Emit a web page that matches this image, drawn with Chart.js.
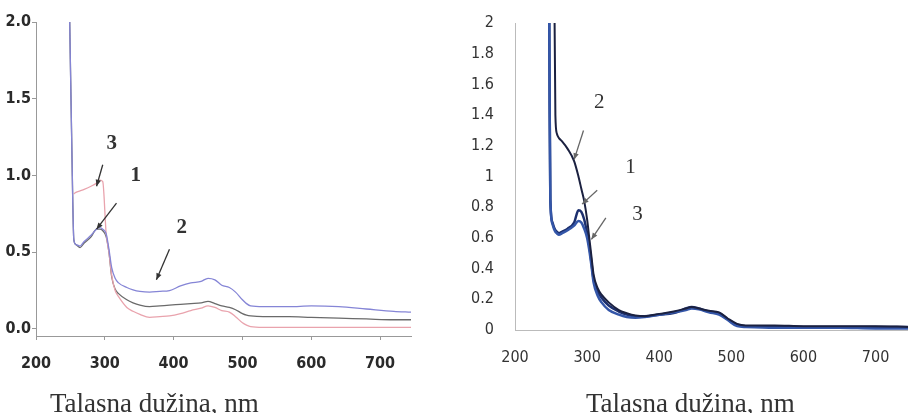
<!DOCTYPE html>
<html>
<head>
<meta charset="utf-8">
<script src="https://cdn.jsdelivr.net/npm/chart.js@4"></script>
<style>
  html, body { margin: 0; padding: 0; background: #fff; width: 908px; height: 413px; overflow: hidden; }
  canvas { position: absolute; top: 0; }
  #left { left: 0; }
  #right { left: 454px; }
  .xtitle { position: absolute; font-family: 'Liberation Serif', 'DejaVu Serif', serif; font-size: 27px; color: #333; white-space: nowrap; line-height: 1; }
</style>
</head>
<body>
<canvas id="left" width="440" height="413"></canvas>
<canvas id="right" width="454" height="413"></canvas>
<div class="xtitle" style="left:50px; top:390px;">Talasna dužina, nm</div>
<div class="xtitle" style="left:586px; top:390px;">Talasna dužina, nm</div>
<script>
// left panel: wavelength (nm) and absorbance of the three samples
var leftWl = [249, 252, 255, 258, 264, 270, 280, 288, 293, 297, 302, 306, 310, 315, 320, 332, 341, 351, 365, 380,
  394, 410, 425, 440, 450, 460, 470, 481, 490, 500, 506, 512, 530, 568, 600, 640, 680, 720, 745];
var leftSeries1 = [2.0, 1.2, 0.58, 0.55, 0.53, 0.56, 0.6, 0.65, 0.65, 0.64, 0.6, 0.5, 0.34, 0.26, 0.23, 0.19, 0.17, 0.155, 0.145, 0.15,
  0.155, 0.16, 0.165, 0.17, 0.18, 0.165, 0.15, 0.14, 0.125, 0.1, 0.09, 0.085, 0.08, 0.08, 0.075, 0.07, 0.065, 0.06, 0.06];
var leftSeries2 = [2.0, 1.2, 0.58, 0.55, 0.54, 0.57, 0.61, 0.65, 0.66, 0.65, 0.62, 0.52, 0.4, 0.33, 0.3, 0.27, 0.255, 0.245, 0.24, 0.245,
  0.25, 0.28, 0.3, 0.31, 0.33, 0.32, 0.285, 0.27, 0.24, 0.19, 0.165, 0.15, 0.145, 0.145, 0.15, 0.145, 0.13, 0.115, 0.11];
var leftSeries3 = [null, null, 0.88, 0.89, 0.9, 0.91, 0.93, 0.95, 0.97, 0.96, 0.62, 0.5, 0.35, 0.25, 0.21, 0.14, 0.115, 0.095, 0.075, 0.08,
  0.085, 0.1, 0.12, 0.135, 0.15, 0.14, 0.12, 0.11, 0.08, 0.04, 0.025, 0.015, 0.01, 0.01, 0.01, 0.01, 0.01, 0.01, 0.01];

// right panel
var rightWl = [247, 248, 249, 252, 254, 256, 258, 261, 265, 273, 282, 288, 292, 296, 300, 303, 306, 309, 315, 320,
  330, 344, 355, 367, 380, 400, 420, 437, 445, 455, 469, 483, 495, 508, 520, 560, 600, 650, 700, 745];
var rightSeries1 = [2.6, 1.5, 0.85, 0.7, 0.67, 0.65, 0.64, 0.63, 0.64, 0.66, 0.7, 0.78, 0.77, 0.72, 0.63, 0.55, 0.44, 0.33, 0.25, 0.21,
  0.16, 0.12, 0.1, 0.09, 0.09, 0.1, 0.11, 0.14, 0.15, 0.14, 0.12, 0.11, 0.07, 0.035, 0.025, 0.025, 0.02, 0.02, 0.02, 0.02];
var rightSeries2 = [null, null, null, null, 2.6, 1.4, 1.28, 1.25, 1.23, 1.18, 1.1, 1.0, 0.92, 0.84, 0.72, 0.6, 0.48, 0.36, 0.27, 0.23,
  0.18, 0.13, 0.11, 0.095, 0.09, 0.105, 0.12, 0.14, 0.15, 0.14, 0.125, 0.115, 0.075, 0.04, 0.03, 0.03, 0.025, 0.025, 0.025, 0.02];
var rightSeries3 = [2.6, 1.5, 0.85, 0.69, 0.66, 0.64, 0.63, 0.62, 0.63, 0.65, 0.68, 0.71, 0.7, 0.66, 0.6, 0.52, 0.42, 0.31, 0.22, 0.18,
  0.13, 0.1, 0.085, 0.08, 0.085, 0.1, 0.115, 0.13, 0.14, 0.135, 0.115, 0.1, 0.065, 0.025, 0.02, 0.015, 0.015, 0.015, 0.01, 0.01];

// tick values
var xTicks = [200, 300, 400, 500, 600, 700];
var leftYTicks = [0, 0.5, 1.0, 1.5, 2.0];
var rightYTicks = [0, 0.2, 0.4, 0.6, 0.8, 1, 1.2, 1.4, 1.6, 1.8, 2];

// curve numbers and arrows (data units)
var leftLabels = [['3', 310, 1.21], ['1', 345, 1.0], ['2', 412, 0.66]];
var leftArrows = [[297, 1.07, 288, 0.93], [317, 0.82, 288, 0.65], [394, 0.52, 375, 0.32]];
var rightLabels = [['2', 317, 1.48], ['1', 360, 1.06], ['3', 370, 0.75]];
var rightArrows = [[295, 1.30, 282, 1.11], [314, 0.91, 293, 0.82], [326, 0.73, 306, 0.59]];

var tickFont = "'Liberation Sans Narrow', 'DejaVu Sans Condensed', 'Arial Narrow', sans-serif";

function pts(xs, ys) {
  return xs.map(function (x, i) { return { x: x, y: ys[i] }; });
}

function marks(labels, arrows, font, color, arrowColor) {
  return {
    id: 'marks',
    afterDatasetsDraw: function (chart) {
      var ctx = chart.ctx, sx = chart.scales.x, sy = chart.scales.y;
      ctx.save();
      ctx.font = font;
      ctx.fillStyle = color;
      ctx.textAlign = 'center';
      ctx.textBaseline = 'middle';
      labels.forEach(function (l) {
        ctx.fillText(l[0], sx.getPixelForValue(l[1]), sy.getPixelForValue(l[2]));
      });
      ctx.strokeStyle = arrowColor;
      ctx.fillStyle = arrowColor;
      ctx.lineWidth = 1.3;
      arrows.forEach(function (a) {
        var x1 = sx.getPixelForValue(a[0]), y1 = sy.getPixelForValue(a[1]);
        var x2 = sx.getPixelForValue(a[2]), y2 = sy.getPixelForValue(a[3]);
        var ang = Math.atan2(y2 - y1, x2 - x1);
        ctx.beginPath();
        ctx.moveTo(x1, y1);
        ctx.lineTo(x2, y2);
        ctx.stroke();
        ctx.beginPath();
        ctx.moveTo(x2, y2);
        ctx.lineTo(x2 - 7 * Math.cos(ang - 0.4), y2 - 7 * Math.sin(ang - 0.4));
        ctx.lineTo(x2 - 7 * Math.cos(ang + 0.4), y2 - 7 * Math.sin(ang + 0.4));
        ctx.closePath();
        ctx.fill();
      });
      ctx.restore();
    }
  };
}

function line(label, xs, ys, color, width) {
  return {
    label: label, data: pts(xs, ys), borderColor: color, borderWidth: width,
    pointRadius: 0, fill: false, spanGaps: true, cubicInterpolationMode: 'monotone'
  };
}

// left chart
new Chart(document.getElementById('left'), {
  type: 'line',
  data: {
    datasets: [
      line('2', leftWl, leftSeries2, '#8585d6', 1.3),
      line('3', leftWl, leftSeries3, '#e9a3ad', 1.3),
      line('1', leftWl, leftSeries1, '#6a6a6a', 1.3)
    ]
  },
  options: {
    responsive: false,
    animation: false,
    layout: { padding: { top: 22, right: 29, left: 0, bottom: 0 } },
    plugins: { legend: { display: false }, tooltip: { enabled: false } },
    scales: {
      x: {
        type: 'linear', min: 200, max: 745,
        afterFit: function (s) { s.height = 77; },
        afterBuildTicks: function (s) { s.ticks = xTicks.map(function (v) { return { value: v }; }); },
        border: { display: true, color: '#999' },
        grid: { display: true, drawOnChartArea: false, drawTicks: true, tickLength: 4, color: '#999' },
        ticks: { padding: 14, color: '#2a2a2a', font: { family: tickFont, size: 16, weight: 'bold' } }
      },
      y: {
        min: -0.046, max: 2.0,
        afterFit: function (s) { s.width = 36; },
        afterBuildTicks: function (s) { s.ticks = leftYTicks.map(function (v) { return { value: v }; }); },
        border: { display: true, color: '#999' },
        grid: { display: true, drawOnChartArea: false, drawTicks: true, tickLength: 4, color: '#999' },
        ticks: {
          padding: 1, color: '#2a2a2a', font: { family: tickFont, size: 16, weight: 'bold' },
          callback: function (v) { return v.toFixed(1); }
        }
      }
    }
  },
  plugins: [marks(leftLabels, leftArrows, "bold 21px 'Liberation Serif', serif", '#333', '#333')]
});

// right chart
new Chart(document.getElementById('right'), {
  type: 'line',
  data: {
    datasets: [
      line('2', rightWl, rightSeries2, '#1b2140', 2),
      line('3', rightWl, rightSeries3, '#3456a8', 2.5),
      line('1', rightWl, rightSeries1, '#1c2f6e', 2.5)
    ]
  },
  options: {
    responsive: false,
    animation: false,
    layout: { padding: { top: 23, right: 0, left: 0, bottom: 0 } },
    plugins: { legend: { display: false }, tooltip: { enabled: false } },
    scales: {
      x: {
        type: 'linear', min: 200, max: 745,
        afterFit: function (s) { s.height = 83; },
        afterBuildTicks: function (s) { s.ticks = xTicks.map(function (v) { return { value: v }; }); },
        border: { display: true, color: '#bbb' },
        grid: { display: false },
        ticks: { padding: 10, color: '#333', font: { family: tickFont, size: 16 } }
      },
      y: {
        min: 0, max: 2,
        afterFit: function (s) { s.width = 61; },
        afterBuildTicks: function (s) { s.ticks = rightYTicks.map(function (v) { return { value: v }; }); },
        border: { display: true, color: '#bbb' },
        grid: { display: false },
        ticks: {
          padding: 13, color: '#333', font: { family: tickFont, size: 16 },
          callback: function (v) { return String(Math.round(v * 10) / 10); }
        }
      }
    }
  },
  plugins: [marks(rightLabels, rightArrows, "21px 'Liberation Serif', serif", '#333', '#666')]
});
</script>
</body>
</html>
